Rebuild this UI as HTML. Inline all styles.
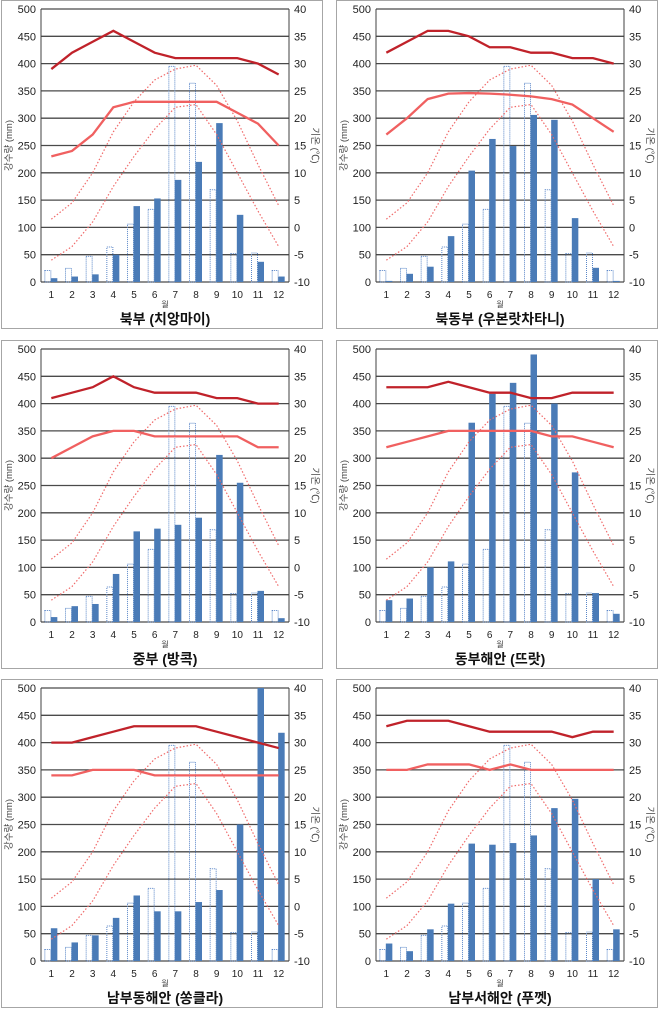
<!DOCTYPE html>
<html><head><meta charset="utf-8"><style>
body{margin:0;background:#fff;width:660px;height:1009px;overflow:hidden;font-family:"Liberation Sans","Noto Sans CJK KR",sans-serif}
svg{position:absolute;left:0;top:0}
</style></head><body>
<svg id="c" width="660" height="1009" xmlns="http://www.w3.org/2000/svg"></svg>
<script>
const months=[1,2,3,4,5,6,7,8,9,10,11,12];
const refRain=[21,25,47,64,106,133,395,364,169,52,53,21];
const refMax=[1.5,4.5,10,17.5,23,27,29,29.7,26,19.5,11.5,4];
const refMin=[-6,-3.5,1,7.5,13,18,22,22.5,17,10,3,-3.5];
const titles=["북부 (치앙마이)","북동부 (우본랏차타니)","중부 (방콕)","동부해안 (뜨랏)","남부동해안 (쏭클라)","남부서해안 (푸껫)"];
const rain1=[7,10,14,50,139,153,187,220,291,123,37,10];
const rain2=[2,15,28,84,204,262,249,306,297,117,26,2];
const rain3=[9,29,33,88,166,171,178,191,306,255,57,7];
const rain4=[40,43,100,111,365,418,438,490,400,274,53,15];
const rain5=[60,34,47,79,120,91,91,108,130,250,560,418];
const rain6=[32,18,58,105,215,213,216,230,280,297,150,58];
const tmax1=[29,32,34,36,34,32,31,31,31,31,30,28];
const tmax2=[32,34,36,36,35,33,33,32,32,31,31,30];
const tmax3=[31,32,33,35,33,32,32,32,31,31,30,30];
const tmax4=[33,33,33,34,33,32,32,31,31,32,32,32];
const tmax5=[30,30,31,32,33,33,33,33,32,31,30,29];
const tmax6=[33,34,34,34,33,32,32,32,32,31,32,32];
const tmin1=[13,14,17,22,23,23,23,23,23,21,19,15];
const tmin2=[17,20,23.5,24.5,24.6,24.5,24.3,24,23.5,22.5,20,17.5];
const tmin3=[20,22,24,25,25,24,24,24,24,24,22,22];
const tmin4=[22,23,24,25,25,25,25,25,24,24,23,22];
const tmin5=[24,24,25,25,25,24,24,24,24,24,24,24];
const tmin6=[25,25,26,26,26,25,26,25,25,25,25,25];
const rains=[rain1,rain2,rain3,rain4,rain5,rain6];
const tmaxs=[tmax1,tmax2,tmax3,tmax4,tmax5,tmax6];
const tmins=[tmin1,tmin2,tmin3,tmin4,tmin5,tmin6];
const leftTicks=[0,50,100,150,200,250,300,350,400,450,500];
const rightTicks=[-10,-5,0,5,10,15,20,25,30,35,40];
const NS="http://www.w3.org/2000/svg";
const svg=document.getElementById('c');
function mk(tag,attrs,parent,text){const e=document.createElementNS(NS,tag);for(const k in attrs)e.setAttribute(k,attrs[k]);if(text!==undefined)e.textContent=text;parent.appendChild(e);return e;}
const origins=[[1,0],[336,0],[1,340],[336,340],[1,679],[336,679]];
origins.forEach((o,p)=>{
  const g=mk('g',{transform:`translate(${o[0]},${o[1]})`},svg);
  
  
  const L=40,R=288,T=9,B=282,W=R-L,cw=W/12;
  const yR=v=>B-Math.min(v,500)/500*(B-T);
  const yT=v=>B-(v+10)/50*(B-T);
  const xC=i=>L+cw*(i+0.5);
  const bd=mk('rect',{x:0.5,y:0.5,width:321,height:328,fill:'#fff',stroke:'#a6a6a6'},g);
  
  
  leftTicks.forEach(v=>{
    const y=yR(v);
    const gl=mk('line',{x1:L,x2:R,y1:y,y2:y,stroke:'#4a4a4a','stroke-width':1.3},g);
    
    
    const t=mk('text',{x:L-5,y:y+4,'text-anchor':'end','font-size':11,fill:'#222'},g,v);
    
    
  });
  rightTicks.forEach(v=>{
    const y=yT(v);
    const t=mk('text',{x:R+5,y:y+4,'font-size':11,fill:'#222'},g,v);
    
    
  });
  mk('line',{x1:L,x2:L,y1:T,y2:B,stroke:'#404040'},g);
  mk('line',{x1:R,x2:R,y1:T,y2:B,stroke:'#404040'},g);
  months.forEach((m,i)=>{
    const t=mk('text',{x:xC(i),y:B+16,'text-anchor':'middle','font-size':10,fill:'#222'},g,m);
    
    
    const y1=yR(refRain[i]);
    const rb=mk('rect',{x:xC(i)-6.5,y:y1,width:6,height:B-y1,fill:'none',stroke:'#5a86c8','stroke-width':1,'stroke-dasharray':'1,1'},g);
    
    
    const y2=yR(rains[p][i]);
    const b=mk('rect',{x:xC(i)-0.5,y:y2,width:6.5,height:B-y2,fill:'#4a7bb7'},g);
    
    
  });
  const pts=a=>a.map((v,i)=>xC(i)+','+yT(v)).join(' ');
  const l1=mk('polyline',{points:pts(refMax),fill:'none',stroke:'#f06a6a','stroke-width':1.2,'stroke-dasharray':'1.5,2'},g);
  
  
  const l2=mk('polyline',{points:pts(refMin),fill:'none',stroke:'#f06a6a','stroke-width':1.2,'stroke-dasharray':'1.5,2'},g);
  
  
  const l3=mk('polyline',{points:pts(tmins[p]),fill:'none',stroke:'#f06060','stroke-width':2.3},g);
  
  
  const l4=mk('polyline',{points:pts(tmaxs[p]),fill:'none',stroke:'#c0222a','stroke-width':2.3},g);
  
  
  const ya=mk('text',{x:0,y:0,transform:`translate(11,${(T+B)/2}) rotate(-90)`,'text-anchor':'middle','font-size':9.5,fill:'#444'},g,'강수량 (mm)');
  
  
  const yb=mk('text',{x:0,y:0,transform:`translate(311,${(T+B)/2}) rotate(90)`,'text-anchor':'middle','font-size':9.5,fill:'#444'},g,'기온 (℃)');
  
  
  const xa=mk('text',{x:(L+R)/2,y:B+25,'text-anchor':'middle','font-size':8,fill:'#444'},g,'월');
  
  
  const tt=mk('text',{x:(L+R)/2,y:324,'text-anchor':'middle','font-size':14,'font-weight':'bold',fill:'#111'},g,titles[p]);
  
  
});
</script>
</body></html>
